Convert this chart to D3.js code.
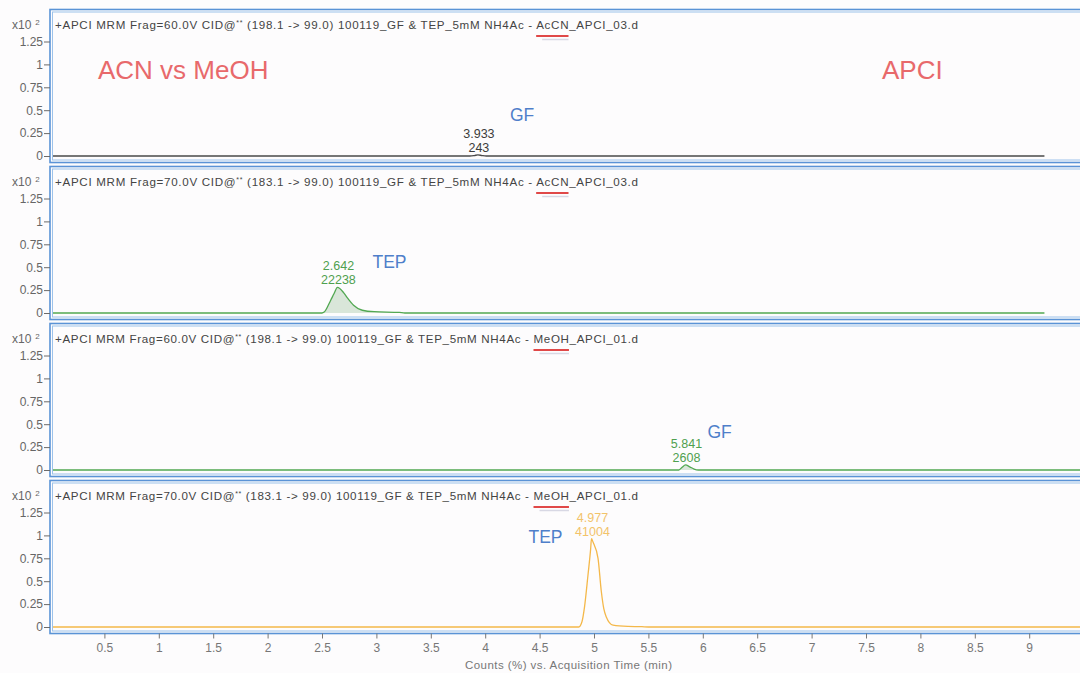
<!DOCTYPE html>
<html>
<head>
<meta charset="utf-8">
<script src="https://cdn.jsdelivr.net/npm/d3@7"></script>
<style>
  html, body { margin: 0; padding: 0; background: #fdfcfd; }
  svg { display: block; font-family: "Liberation Sans", Arial, sans-serif; }
</style>
</head>
<body>
<svg id="chart" width="1080" height="673"></svg>
<script>
// ---- data -------------------------------------------------------------
const timeTicks = [0.5, 1, 1.5, 2, 2.5, 3, 3.5, 4, 4.5, 5, 5.5, 6, 6.5, 7, 7.5, 8, 8.5, 9];
const timeTickLabels = ["0.5","1","1.5","2","2.5","3","3.5","4","4.5","5","5.5","6","6.5","7","7.5","8","8.5","9"];
const countTicks = [0, 0.25, 0.5, 0.75, 1, 1.25];
const countTickLabels = ["0", "0.25", "0.5", "0.75", "1", "1.25"];

const headerPrefixes = [
  "+APCI MRM Frag=60.0V CID@",
  "+APCI MRM Frag=70.0V CID@",
  "+APCI MRM Frag=60.0V CID@",
  "+APCI MRM Frag=70.0V CID@"
];
const headerSuffixes = [
  " (198.1 -> 99.0) 100119_GF & TEP_5mM NH4Ac - AcCN_APCI_03.d",
  " (183.1 -> 99.0) 100119_GF & TEP_5mM NH4Ac - AcCN_APCI_03.d",
  " (198.1 -> 99.0) 100119_GF & TEP_5mM NH4Ac - MeOH_APCI_01.d",
  " (183.1 -> 99.0) 100119_GF & TEP_5mM NH4Ac - MeOH_APCI_01.d"
];
const markedWords = ["AcCN", "AcCN", "MeOH", "MeOH"];

// chromatogram traces: [acquisition time (min), counts (x10^2 %)]
const gfAcn = [[0,0],[3.86,0],[3.90,0.005],[3.933,0.012],[3.97,0.005],[4.01,0],[9.14,0]];
const tepAcn = [[0,0],[2.50,0],[2.52,0.01],[2.58,0.14],[2.61,0.21],[2.642,0.28],[2.70,0.22],
  [2.73,0.17],[2.79,0.085],[2.87,0.03],[2.98,0.014],[3.21,0.007],[3.26,0],[9.14,0]];
const gfMeoh = [[0,0],[5.78,0],[5.81,0.03],[5.841,0.055],[5.88,0.035],[5.92,0.01],[5.96,0],[9.6,0]];
const tepMeoh = [[0,0],[4.86,0],[4.89,0.06],[4.913,0.22],[4.945,0.57],[4.969,0.85],[4.977,0.965],
  [4.99,0.93],[5.037,0.75],[5.067,0.39],[5.09,0.2],[5.113,0.11],[5.175,0.02],[5.31,0.006],
  [5.44,0.003],[5.5,0],[9.6,0]];

const peakTimes = [3.933, 2.642, 5.841, 4.977];
const peakAreas = [243, 22238, 2608, 41004];
const compoundNames = ["GF", "TEP", "GF", "TEP"];

// ---- layout & styles ---------------------------------------------------
const traces = [gfAcn, tepAcn, gfMeoh, tepMeoh];
const traceStyles = [
  { line: "#4a4a4a", fill: "none",    label: "#3c3c3c" },
  { line: "#52a852", fill: "#d9e6d9", label: "#4fa04f" },
  { line: "#52a852", fill: "#d9e6d9", label: "#4fa04f" },
  { line: "#f4b84a", fill: "none",    label: "#f2c36a" }
];
// compound name placement relative to the peak (px)
const nameOffsets = [[32, -35], [35, -45], [22, -32], [-63, -84]];

const svg = d3.select("#chart");
const plotLeft = 50;
const pxPerMin = 108.8;
const xMax = 9.6;
const x = d3.scaleLinear().domain([0, xMax]).range([plotLeft, plotLeft + xMax * pxPerMin]);

const panelTop0 = 9.5, panelStep = 157, panelH = 153;
const panelW = 1100;

svg.append("rect").attr("width", 1080).attr("height", 673).attr("fill", "#fdfcfd");

const defs = svg.append("defs");

traces.forEach((trace, i) => {
  const top = panelTop0 + i * panelStep;
  const y = d3.scaleLinear().domain([0, 1.25]).range([top + 146.5, top + 32]);
  const style = traceStyles[i];
  const g = svg.append("g").attr("class", "panel");

  // clip to the plot frame
  defs.append("clipPath").attr("id", "clip" + i)
    .append("rect").attr("x", plotLeft + 2).attr("y", top + 2)
    .attr("width", panelW).attr("height", panelH - 3);

  // trace area + line
  const body = g.append("g").attr("clip-path", `url(#clip${i})`);
  if (style.fill !== "none") {
    body.append("path").datum(trace)
      .attr("fill", style.fill)
      .attr("d", d3.area().x(d => x(d[0])).y0(y(0)).y1(d => y(d[1])).curve(d3.curveMonotoneX));
  }
  body.append("path").datum(trace)
    .attr("fill", "none")
    .attr("stroke", style.line)
    .attr("stroke-width", 1.3)
    .attr("d", d3.line().x(d => x(d[0])).y(d => y(d[1])).curve(d3.curveMonotoneX));

  // frame (double blue rule)
  g.append("rect").attr("x", plotLeft).attr("y", top).attr("width", panelW).attr("height", panelH)
    .attr("fill", "none").attr("stroke", "#5a93d6").attr("stroke-width", 1.6);
  g.append("rect").attr("x", plotLeft + 2.5).attr("y", top + 2.5).attr("width", panelW).attr("height", panelH - 5)
    .attr("fill", "none").attr("stroke", "#9cc2ea").attr("stroke-width", 1);

  // y axis
  const ya = g.append("g").attr("transform", `translate(${plotLeft},0)`)
    .call(d3.axisLeft(y).tickValues(countTicks).tickSize(6).tickPadding(1)
      .tickFormat((d, k) => countTickLabels[k]));
  ya.select(".domain").remove();
  ya.selectAll("line").attr("stroke", "#6a6a6a");
  ya.selectAll("text").attr("fill", "#666").attr("font-size", 12)
    .attr("font-family", "'Liberation Sans', Arial, sans-serif");

  // exponent label
  const ex = g.append("text").attr("x", 12).attr("y", top + 19)
    .attr("font-size", 12).attr("fill", "#666");
  ex.append("tspan").text("x10");
  ex.append("tspan").attr("dx", 4).attr("dy", -4).attr("font-size", 8).text("2");

  // header
  const hdr = g.append("text").attr("x", 55).attr("y", top + 19)
    .attr("font-size", 11.6).attr("fill", "#444")
    .attr("textLength", 583).attr("lengthAdjust", "spacing");
  hdr.append("tspan").text(headerPrefixes[i]);
  hdr.append("tspan").attr("font-size", 7).attr("dy", -4).text("**");
  hdr.append("tspan").attr("dy", 4).text(headerSuffixes[i]);

  // underline mark on the solvent name
  const full = headerPrefixes[i] + "**" + headerSuffixes[i];
  const idx = full.lastIndexOf(markedWords[i]);
  const node = hdr.node();
  const a = node.getStartPositionOfChar(idx).x;
  const b = node.getEndPositionOfChar(idx + markedWords[i].length - 1).x;
  g.append("line").attr("x1", a).attr("x2", b).attr("y1", top + 26.5).attr("y2", top + 26.5)
    .attr("stroke", "#e04848").attr("stroke-width", 2);
  g.append("line").attr("x1", a + 6).attr("x2", b).attr("y1", top + 30).attr("y2", top + 30)
    .attr("stroke", "#d8d8e4").attr("stroke-width", 1.5);

  // peak labels
  const rt = peakTimes[i];
  const apexV = d3.max(trace, d => d[1]);
  const px = x(rt), py = y(apexV);
  g.append("text").attr("x", px + 1).attr("y", py - 17).attr("text-anchor", "middle")
    .attr("font-size", 12.5).attr("fill", style.label).text(rt.toFixed(3));
  g.append("text").attr("x", px + 1).attr("y", py - 3).attr("text-anchor", "middle")
    .attr("font-size", 12.5).attr("fill", style.label).text(String(peakAreas[i]));

  // compound name
  g.append("text").attr("x", px + nameOffsets[i][0]).attr("y", y(0) + nameOffsets[i][1])
    .attr("font-size", 17.5).attr("fill", "#4f7fca").text(compoundNames[i]);

  // bottom time axis under the last panel
  if (i === traces.length - 1) {
    const xa = svg.append("g").attr("transform", `translate(0,${top + panelH})`)
      .call(d3.axisBottom(x).tickValues(timeTicks).tickSize(5).tickPadding(5)
        .tickFormat((d, k) => timeTickLabels[k]));
    xa.select(".domain").remove();
    xa.selectAll("line").attr("stroke", "#777");
    xa.selectAll("text").attr("fill", "#777").attr("font-size", 12)
      .attr("font-family", "'Liberation Sans', Arial, sans-serif");
    svg.append("text").attr("x", 465).attr("y", 669)
      .attr("font-size", 11.5).attr("fill", "#777")
      .attr("textLength", 207).attr("lengthAdjust", "spacing")
      .text("Counts (%) vs. Acquisition Time (min)");
  }
});

// slide annotations
svg.append("text").attr("x", 98).attr("y", 79).attr("font-size", 26).attr("fill", "#e8696b")
  .text("ACN vs MeOH");
svg.append("text").attr("x", 882).attr("y", 79).attr("font-size", 26).attr("fill", "#e8696b")
  .text("APCI");
</script>
</body>
</html>
